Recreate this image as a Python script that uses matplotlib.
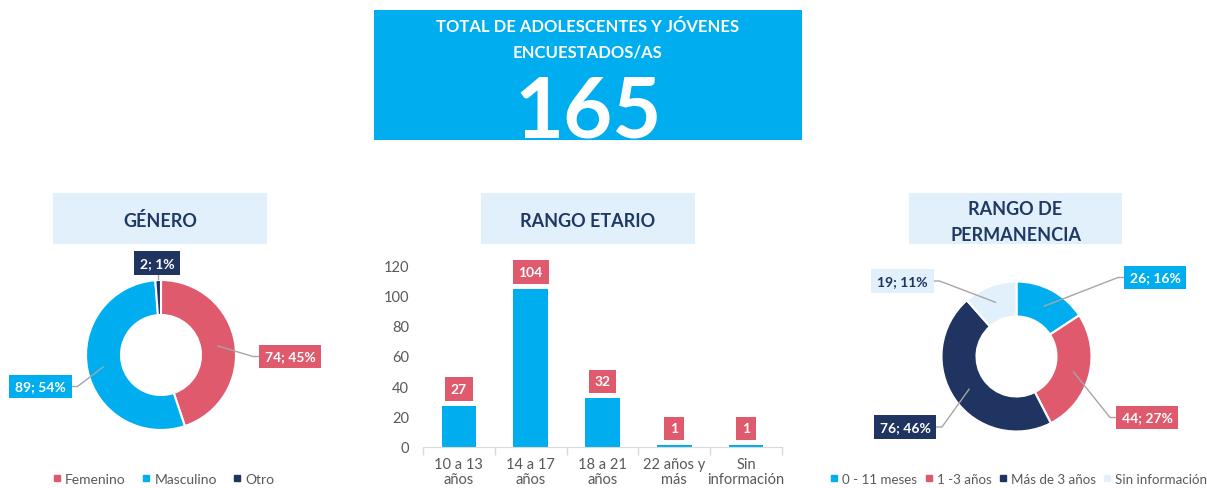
import numpy as np
import matplotlib
matplotlib.use("Agg")
import matplotlib.pyplot as plt
from matplotlib.patches import Rectangle
from matplotlib.lines import Line2D

plt.rcParams['font.family'] = ['Lato', 'DejaVu Sans']

# datos
total_encuestados = 165
genero_labels = ["Femenino", "Masculino", "Otro"]
genero_values = [74, 89, 2]
edad_labels = ["10 a 13\naños", "14 a 17\naños", "18 a 21\naños", "22 años y\nmás", "Sin\ninformación"]
edad_values = [27, 104, 32, 1, 1]
perm_labels = ["0 - 11 meses", "1 -3 años", "Más de 3 años", "Sin información"]
perm_values = [26, 44, 76, 19]

# colores
BLUE = "#00AEEF"
PINK = "#E05A6E"
NAVY = "#1F3461"
LIGHT = "#E1F0FA"
TITLE = "#1F3864"
GRAY = "#595959"
LINE = "#A6A6A6"

W, H = 1207, 489
fig = plt.figure(figsize=(W / 100, H / 100), dpi=100)


def px_axes(x0, y0, x1, y1):
    return fig.add_axes([x0 / W, 1 - y1 / H, (x1 - x0) / W, (y1 - y0) / H])


def px_rect(x0, y0, x1, y1, color):
    fig.add_artist(Rectangle((x0 / W, 1 - y1 / H), (x1 - x0) / W, (y1 - y0) / H,
                             transform=fig.transFigure, fc=color, ec="none"))


def px_text(x, y, s, **kw):
    fig.text(x / W, 1 - y / H, s, ha="center", va="baseline", **kw)


def pct_excel(values):
    # porcentajes redondeados para que sumen 100 (como Excel)
    raw = np.array(values) * 100 / sum(values)
    base = np.floor(raw).astype(int)
    rest = 100 - base.sum()
    order = np.argsort(-(raw - base))
    base[order[:rest]] += 1
    return base


def donut(ax, values, colors, box_pos, anchor_r, text_colors, R=75, hole=40):
    ax.pie(values, radius=R, startangle=90, counterclock=False, colors=colors,
           wedgeprops=dict(width=R - hole, edgecolor="white", linewidth=1.5))
    pcts = pct_excel(values)
    cum = np.cumsum([0] + values[:-1])
    tot = sum(values)
    for v, c0, p, (bx, by), ar, col, tc in zip(values, cum, pcts, box_pos, anchor_r, colors, text_colors):
        theta = np.deg2rad(90 - 360 * (c0 + v / 2) / tot)
        axx, ayy = ar * R * np.cos(theta), ar * R * np.sin(theta)
        if abs(bx - axx) > 30:
            side = np.sign(bx - axx)
            ex, ey = bx - side * 37, by
        else:
            ex, ey = axx, by
        ax.plot([axx, ex, bx], [ayy, ey, by], color=LINE, lw=1, zorder=3, solid_capstyle="butt")
        ax.text(bx, by, f"{v}; {p}%", ha="center", va="center", color=tc,
                fontsize=10, fontweight="bold", zorder=5,
                bbox=dict(boxstyle="square,pad=0.42", fc=col, ec="none"))


# ---- caja superior ----
px_rect(374, 11, 802, 141, BLUE)
px_text(588, 32, "TOTAL DE ADOLESCENTES Y JÓVENES", color="white", fontsize=12, fontweight="bold")
px_text(588, 57, "ENCUESTADOS/AS", color="white", fontsize=12, fontweight="bold")
px_text(588, 138, str(total_encuestados), color="white", fontsize=61, fontweight="bold")

# ---- títulos ----
px_rect(53, 194, 267, 245, LIGHT)
px_text(160, 227, "GÉNERO", color=TITLE, fontsize=13, fontweight="bold")
px_rect(481, 194, 695, 245, LIGHT)
px_text(588, 227, "RANGO ETARIO", color=TITLE, fontsize=13, fontweight="bold")
px_rect(909, 194, 1122, 245, LIGHT)
px_text(1015.5, 215, "RANGO DE", color=TITLE, fontsize=13, fontweight="bold")
px_text(1015.5, 241, "PERMANENCIA", color=TITLE, fontsize=13, fontweight="bold")

# ---- género ----
ax1 = px_axes(0, 250, 340, 470)
gen_colors = [PINK, BLUE, NAVY]
donut(ax1, genero_values, gen_colors,
      box_pos=[(129, -1.5), (-120.5, -31.5), (-4, 92)],
      anchor_r=[0.76, 0.78, 1.0],
      text_colors=["white", "white", "white"])
ax1.set_xlim(-161, 179)
ax1.set_ylim(-114, 106)
ax1.set_aspect("auto")
ax1.axis("off")

# ---- rango etario ----
ax2 = px_axes(423, 266, 782, 448)
x = np.arange(len(edad_values))
ax2.bar(x, edad_values, width=0.48, color=BLUE, zorder=2)
ax2.set_xlim(-0.5, len(edad_values) - 0.5)
ax2.set_ylim(0, 120)
ax2.set_yticks(np.arange(0, 121, 20))
ax2.set_xticks(x)
ax2.set_xticklabels(edad_labels, linespacing=1.15)
ax2.set_xticks(np.arange(-0.5, len(edad_values), 1), minor=True)
ax2.tick_params(axis="x", which="major", length=0, pad=7, labelsize=10.5, labelcolor=GRAY)
ax2.tick_params(axis="x", which="minor", length=6, color="#D9D9D9", width=1)
ax2.tick_params(axis="y", length=0, pad=10, labelsize=10.5, labelcolor=GRAY)
for s in ["top", "right", "left"]:
    ax2.spines[s].set_visible(False)
ax2.spines["bottom"].set_color("#D9D9D9")
ax2.set_facecolor("none")
for xi, v in zip(x, edad_values):
    ax2.annotate(str(v), (xi, v), xytext=(0, 8), textcoords="offset points",
                 ha="center", va="bottom", color="white", fontsize=10, fontweight="bold",
                 bbox=dict(boxstyle="square,pad=0.42", fc=PINK, ec="none"))

# ---- rango de permanencia ----
ax3 = px_axes(830, 250, 1207, 470)
perm_colors = [BLUE, PINK, NAVY, LIGHT]
donut(ax3, perm_values, perm_colors,
      box_pos=[(138.5, 79), (130.5, -61), (-111.5, -70.5), (-114, 75.5)],
      anchor_r=[0.76, 0.78, 0.76, 0.77],
      text_colors=["white", "white", "white", NAVY])
ax3.set_xlim(-186.5, 190.5)
ax3.set_ylim(-112.5, 107.5)
ax3.set_aspect("auto")
ax3.axis("off")


# ---- leyendas ----
def legend(labels, colors, cx, fs, colsp):
    handles = [Line2D([], [], marker="s", ls="none", color=c, markersize=5, label=l)
               for l, c in zip(labels, colors)]
    fig.legend(handles=handles, loc="center", bbox_to_anchor=(cx / W, 1 - 480 / H),
               ncol=len(labels), frameon=False, fontsize=fs, labelcolor=GRAY,
               handlelength=0.5, handletextpad=0.35, columnspacing=colsp, borderpad=0)


legend(genero_labels, gen_colors, 164, 10, 1.2)
legend(perm_labels, perm_colors, 1019, 9.6, 0.6)

fig.savefig("out.png", dpi=100)
